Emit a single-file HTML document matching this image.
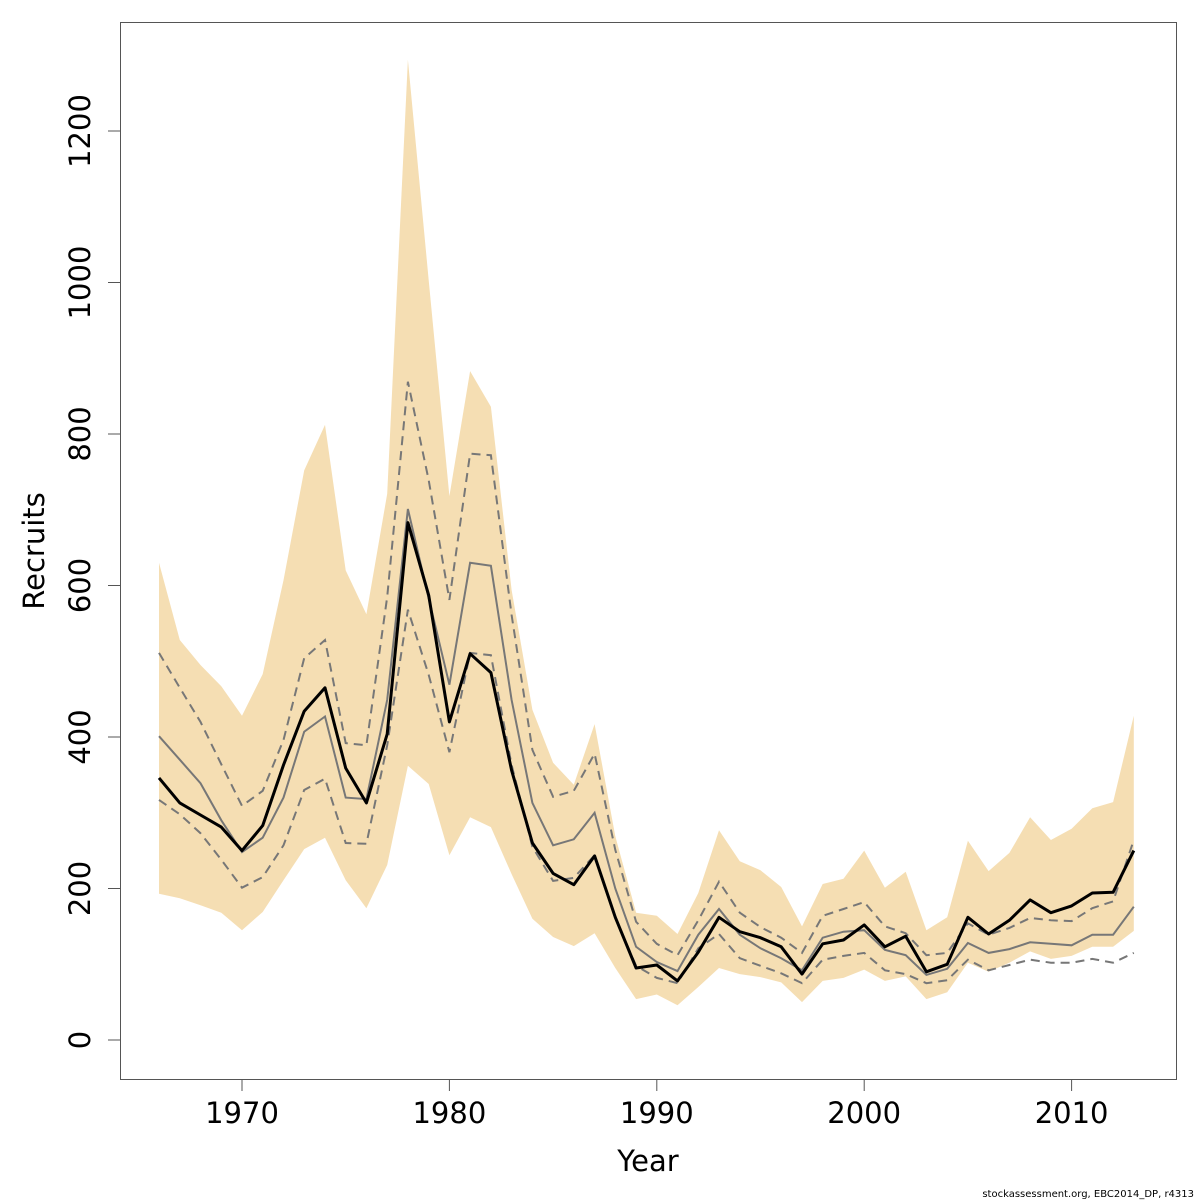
<!DOCTYPE html>
<html><head><meta charset="utf-8"><style>
html,body{margin:0;padding:0;background:#fff;}
svg{display:block;font-family:"DejaVu Sans","Liberation Sans",sans-serif;}
</style></head><body>
<svg id="chart" width="1200" height="1200" viewBox="0 0 1200 1200" xmlns="http://www.w3.org/2000/svg">
<rect x="120.5" y="22.5" width="1056" height="1057" fill="none" stroke="#555" stroke-width="1"/>
<g id="marks"></g>
<g id="axes"></g>
<text x="648" y="1171" font-size="29" text-anchor="middle">Year</text>
<text transform="translate(44,551) rotate(-90)" font-size="29" text-anchor="middle">Recruits</text>
<text x="1194" y="1197" font-size="10" text-anchor="end">stockassessment.org, EBC2014_DP, r4313</text>
</svg>
<script>
const years=[1966,1967,1968,1969,1970,1971,1972,1973,1974,1975,1976,1977,1978,1979,1980,1981,1982,1983,1984,1985,1986,1987,1988,1989,1990,1991,1992,1993,1994,1995,1996,1997,1998,1999,2000,2001,2002,2003,2004,2005,2006,2007,2008,2009,2010,2011,2012,2013];
const estimate=[346,313,297,281,250,283,363,434,465,359,313,404,683,587,420,510,485,356,260,220,205,243,162,95,99,78,116,162,143,135,123,87,127,132,152,123,137,90,100,162,140,158,185,168,177,194,195,250];
const median=[401,370,339,290,248,267,320,407,427,320,318,449,701,583,469,630,626,449,313,257,265,300,200,123,103,91,139,173,139,121,108,92,135,143,145,119,112,86,94,128,115,120,129,127,125,139,139,176];
const dashUpper=[511,465,420,364,309,329,396,504,528,392,389,585,869,739,581,774,772,561,383,321,329,378,251,156,127,112,158,209,168,149,135,115,164,173,182,150,141,112,115,154,139,148,161,158,157,174,183,264];
const dashLower=[317,298,273,238,201,215,257,330,345,260,259,389,568,482,380,511,508,363,255,210,214,244,161,98,82,75,121,140,108,98,88,75,106,111,115,92,87,75,79,106,92,99,106,102,102,107,102,115];
const bandUpper=[630,528,495,467,428,483,607,752,812,620,562,721,1294,1003,718,883,836,594,436,366,337,417,269,168,164,140,194,277,236,224,202,150,206,213,250,201,222,145,162,263,223,247,294,264,279,306,314,428];
const bandLower=[193,187,178,168,145,169,211,252,267,211,174,231,362,338,244,294,281,219,160,136,124,141,95,54,60,46,70,95,87,83,76,50,78,82,93,78,84,54,63,102,90,102,117,107,111,123,123,144];
const xTicks=[1970,1980,1990,2000,2010];
const yTicks=[0,200,400,600,800,1000,1200];

const NS="http://www.w3.org/2000/svg";
const X=yr=>242+(yr-1970)*20.74;
const Y=v=>1040-v*0.7575;
const marks=document.getElementById('marks');
const axes=document.getElementById('axes');
function mk(tag,attrs,parent){const e=document.createElementNS(NS,tag);for(const k in attrs)e.setAttribute(k,attrs[k]);parent.appendChild(e);return e;}
function pts(arr){return arr.map((v,i)=>X(years[i]).toFixed(1)+','+Y(v).toFixed(1)).join(' ');}

const band=mk('polygon',{points:pts(bandUpper)+' '+bandLower.map((v,i)=>[X(years[i]).toFixed(1),Y(v).toFixed(1)].join(',')).reverse().join(' '),fill:'#f5deb3',stroke:'none'},marks);


const du=mk('polyline',{points:pts(dashUpper),fill:'none',stroke:'#777',"stroke-width":2,"stroke-dasharray":"9,6"},marks);


const dl=mk('polyline',{points:pts(dashLower),fill:'none',stroke:'#777',"stroke-width":2,"stroke-dasharray":"9,6"},marks);


const md=mk('polyline',{points:pts(median),fill:'none',stroke:'#777',"stroke-width":2},marks);


const es=mk('polyline',{points:pts(estimate),fill:'none',stroke:'#000',"stroke-width":3,"stroke-linejoin":"round"},marks);



const xl=mk('line',{x1:X(1970),x2:X(2010),y1:1079.5,y2:1079.5,stroke:'#555'},axes);


xTicks.forEach(t=>{
  const tk=mk('line',{x1:X(t),x2:X(t),y1:1079,y2:1091,stroke:'#555'},axes);
  
  
  const tx=mk('text',{x:X(t),y:1123,"font-size":29,"text-anchor":"middle"},axes);
  tx.textContent=t;
  
  
});
const yl=mk('line',{x1:120.5,x2:120.5,y1:Y(0),y2:Y(1200),stroke:'#555'},axes);


yTicks.forEach(t=>{
  const tk=mk('line',{x1:108,x2:120,y1:Y(t),y2:Y(t),stroke:'#555'},axes);
  
  
  const tx=mk('text',{transform:`translate(90,${Y(t)}) rotate(-90)`,"font-size":29,"text-anchor":"middle"},axes);
  tx.textContent=t;
  
  
});
</script>
</body></html>
